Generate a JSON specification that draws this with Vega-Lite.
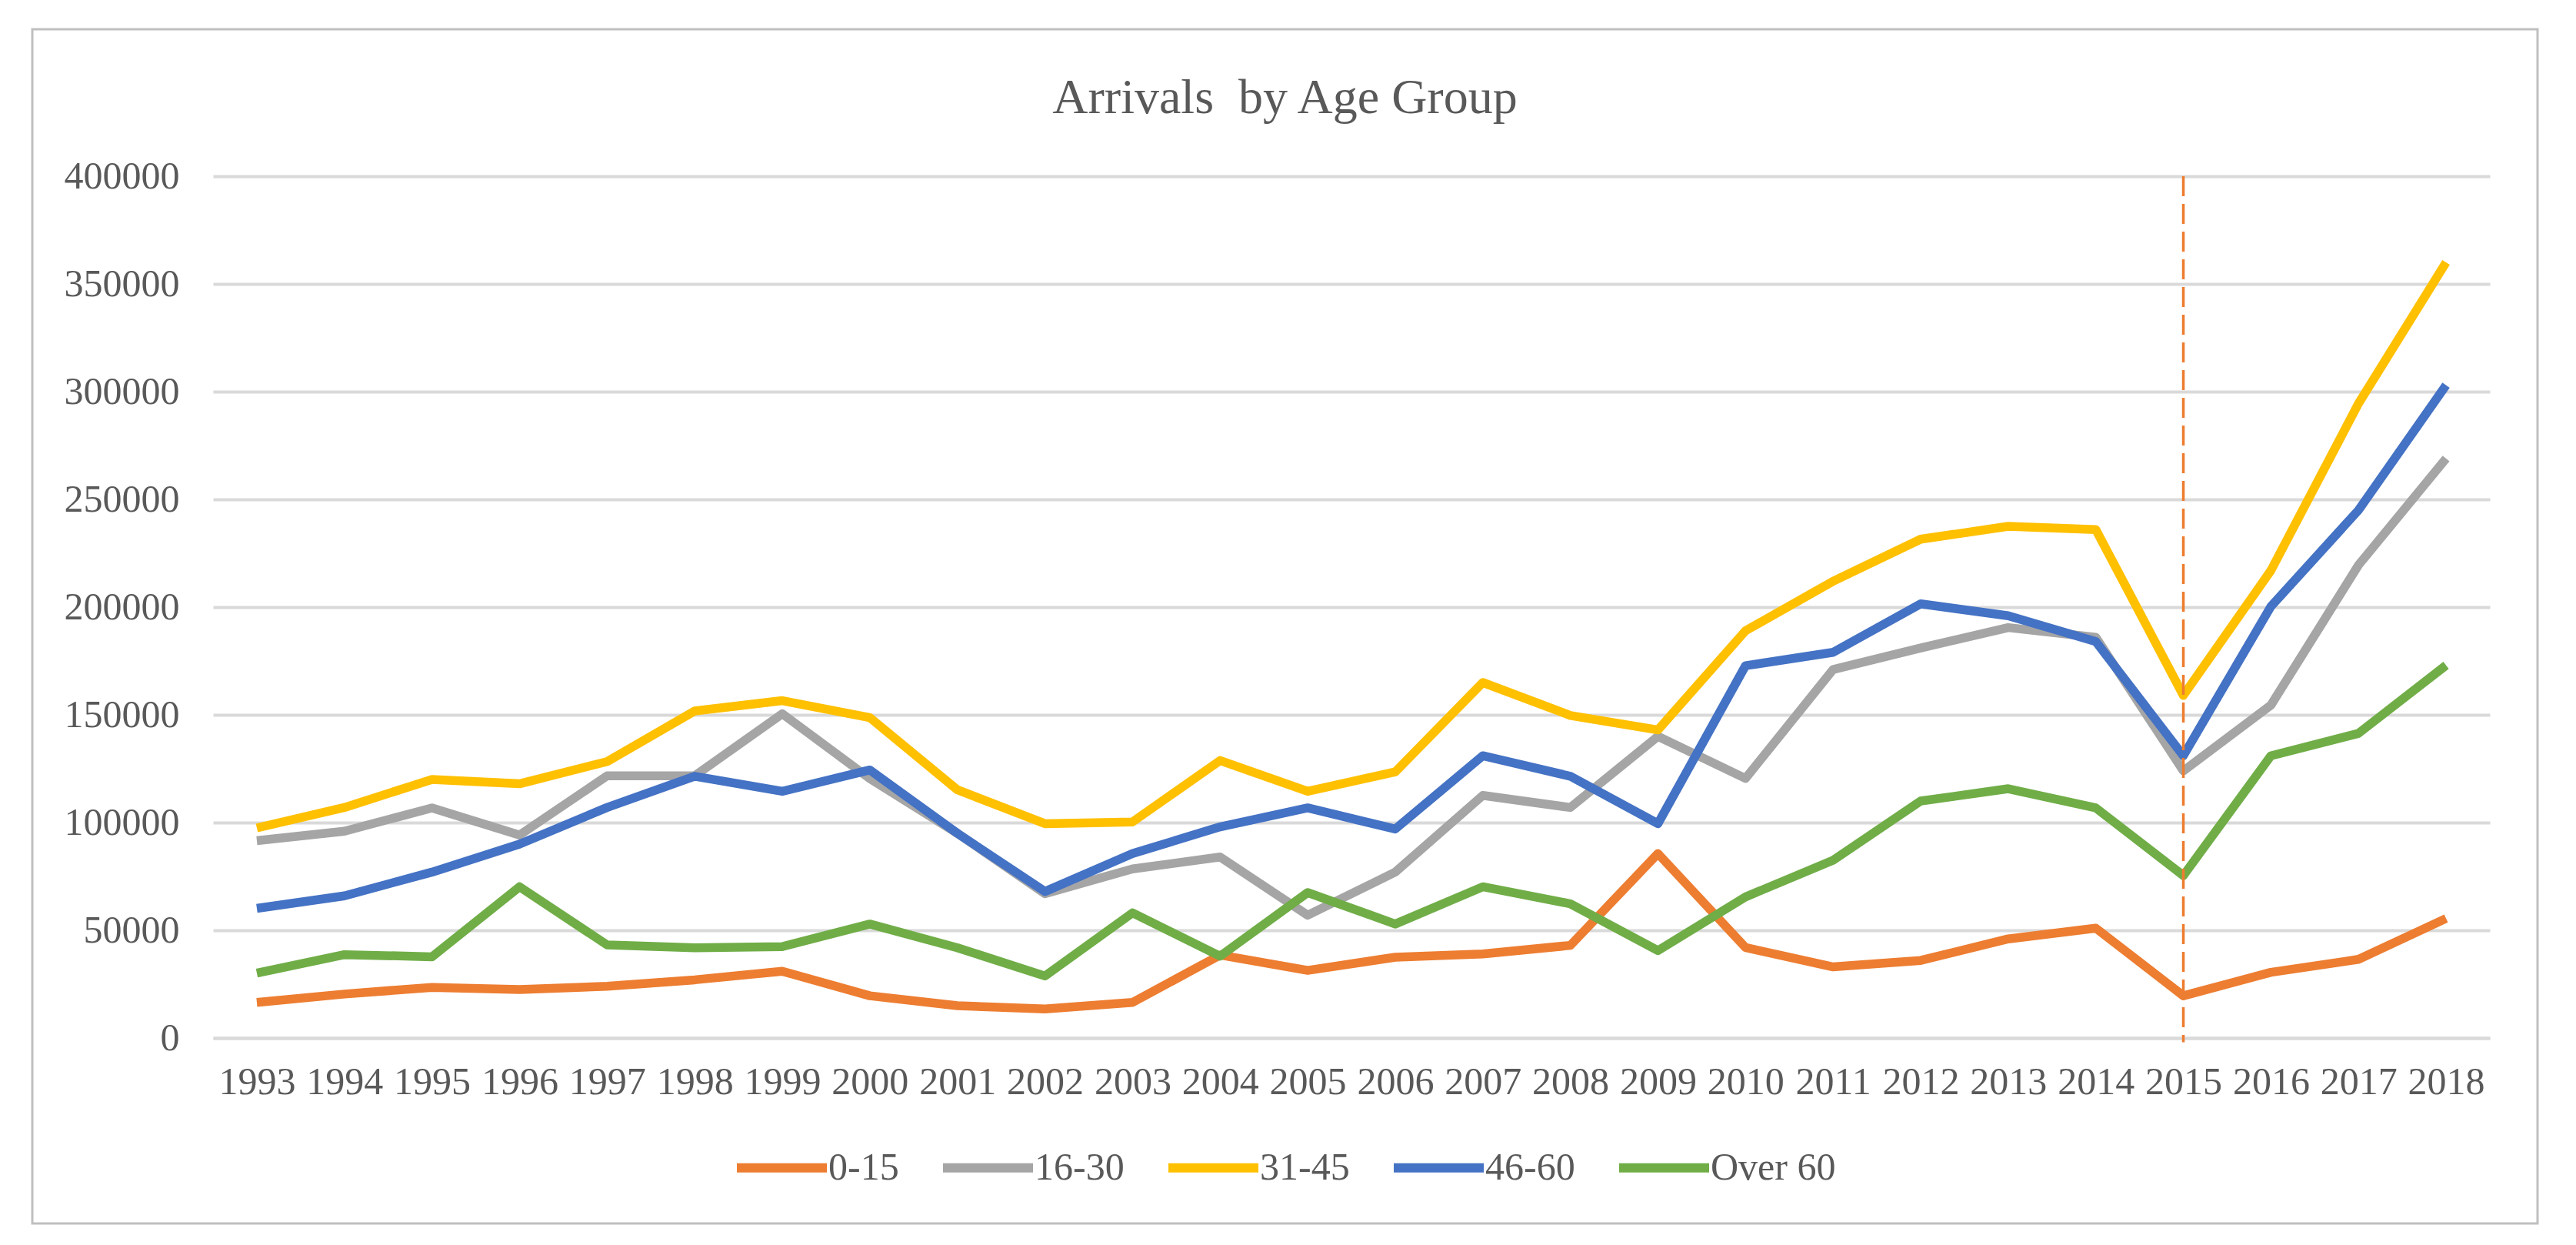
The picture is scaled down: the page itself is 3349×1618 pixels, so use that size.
{
  "$schema": "https://vega.github.io/schema/vega-lite/v6.json",
  "width": 3257,
  "height": 1552,
  "autosize": {"type": "none"},
  "padding": {"left": 42, "top": 38, "right": 50, "bottom": 28},
  "background": "white",
  "config": {
    "view": {"stroke": "#BFBFBF", "strokeWidth": 3},
    "font": "Liberation Serif"
  },
  "title": {
    "text": "Arrivals \u00a0by Age Group",
    "font": "Liberation Serif",
    "fontSize": 64,
    "fontWeight": "normal",
    "color": "#595959",
    "anchor": "middle",
    "frame": "group",
    "baseline": "alphabetic",
    "offset": -173
  },
  "datasets": {
    "series": [
      {"year": "1993", "group": "0-15", "value": 16500},
      {"year": "1994", "group": "0-15", "value": 20400},
      {"year": "1995", "group": "0-15", "value": 23500},
      {"year": "1996", "group": "0-15", "value": 22500},
      {"year": "1997", "group": "0-15", "value": 24000},
      {"year": "1998", "group": "0-15", "value": 27000},
      {"year": "1999", "group": "0-15", "value": 31000},
      {"year": "2000", "group": "0-15", "value": 19600},
      {"year": "2001", "group": "0-15", "value": 15000},
      {"year": "2002", "group": "0-15", "value": 13500},
      {"year": "2003", "group": "0-15", "value": 16500},
      {"year": "2004", "group": "0-15", "value": 38500},
      {"year": "2005", "group": "0-15", "value": 31400},
      {"year": "2006", "group": "0-15", "value": 37500},
      {"year": "2007", "group": "0-15", "value": 39000},
      {"year": "2008", "group": "0-15", "value": 43000},
      {"year": "2009", "group": "0-15", "value": 85600},
      {"year": "2010", "group": "0-15", "value": 42000},
      {"year": "2011", "group": "0-15", "value": 33000},
      {"year": "2012", "group": "0-15", "value": 36000},
      {"year": "2013", "group": "0-15", "value": 46000},
      {"year": "2014", "group": "0-15", "value": 51000},
      {"year": "2015", "group": "0-15", "value": 19600},
      {"year": "2016", "group": "0-15", "value": 30500},
      {"year": "2017", "group": "0-15", "value": 36500},
      {"year": "2018", "group": "0-15", "value": 55500},
      {"year": "1993", "group": "16-30", "value": 91600},
      {"year": "1994", "group": "16-30", "value": 96000},
      {"year": "1995", "group": "16-30", "value": 106800},
      {"year": "1996", "group": "16-30", "value": 94200},
      {"year": "1997", "group": "16-30", "value": 121700},
      {"year": "1998", "group": "16-30", "value": 121700},
      {"year": "1999", "group": "16-30", "value": 150500},
      {"year": "2000", "group": "16-30", "value": 120400},
      {"year": "2001", "group": "16-30", "value": 95000},
      {"year": "2002", "group": "16-30", "value": 67000},
      {"year": "2003", "group": "16-30", "value": 78500},
      {"year": "2004", "group": "16-30", "value": 84000},
      {"year": "2005", "group": "16-30", "value": 57000},
      {"year": "2006", "group": "16-30", "value": 77000},
      {"year": "2007", "group": "16-30", "value": 112600},
      {"year": "2008", "group": "16-30", "value": 107000},
      {"year": "2009", "group": "16-30", "value": 140000},
      {"year": "2010", "group": "16-30", "value": 120500},
      {"year": "2011", "group": "16-30", "value": 171000},
      {"year": "2012", "group": "16-30", "value": 181000},
      {"year": "2013", "group": "16-30", "value": 190500},
      {"year": "2014", "group": "16-30", "value": 186000},
      {"year": "2015", "group": "16-30", "value": 124000},
      {"year": "2016", "group": "16-30", "value": 154500},
      {"year": "2017", "group": "16-30", "value": 219500},
      {"year": "2018", "group": "16-30", "value": 269000},
      {"year": "1993", "group": "31-45", "value": 97500},
      {"year": "1994", "group": "31-45", "value": 107000},
      {"year": "1995", "group": "31-45", "value": 120000},
      {"year": "1996", "group": "31-45", "value": 118000},
      {"year": "1997", "group": "31-45", "value": 128300},
      {"year": "1998", "group": "31-45", "value": 151800},
      {"year": "1999", "group": "31-45", "value": 156600},
      {"year": "2000", "group": "31-45", "value": 148700},
      {"year": "2001", "group": "31-45", "value": 115200},
      {"year": "2002", "group": "31-45", "value": 99500},
      {"year": "2003", "group": "31-45", "value": 100300},
      {"year": "2004", "group": "31-45", "value": 128800},
      {"year": "2005", "group": "31-45", "value": 114500},
      {"year": "2006", "group": "31-45", "value": 123500},
      {"year": "2007", "group": "31-45", "value": 165000},
      {"year": "2008", "group": "31-45", "value": 149700},
      {"year": "2009", "group": "31-45", "value": 143000},
      {"year": "2010", "group": "31-45", "value": 189000},
      {"year": "2011", "group": "31-45", "value": 212000},
      {"year": "2012", "group": "31-45", "value": 231500},
      {"year": "2013", "group": "31-45", "value": 237500},
      {"year": "2014", "group": "31-45", "value": 236000},
      {"year": "2015", "group": "31-45", "value": 159000},
      {"year": "2016", "group": "31-45", "value": 217000},
      {"year": "2017", "group": "31-45", "value": 294500},
      {"year": "2018", "group": "31-45", "value": 360000},
      {"year": "1993", "group": "46-60", "value": 60200},
      {"year": "1994", "group": "46-60", "value": 66000},
      {"year": "1995", "group": "46-60", "value": 77000},
      {"year": "1996", "group": "46-60", "value": 90000},
      {"year": "1997", "group": "46-60", "value": 107000},
      {"year": "1998", "group": "46-60", "value": 121500},
      {"year": "1999", "group": "46-60", "value": 114500},
      {"year": "2000", "group": "46-60", "value": 124400},
      {"year": "2001", "group": "46-60", "value": 95000},
      {"year": "2002", "group": "46-60", "value": 68000},
      {"year": "2003", "group": "46-60", "value": 85600},
      {"year": "2004", "group": "46-60", "value": 98000},
      {"year": "2005", "group": "46-60", "value": 106800},
      {"year": "2006", "group": "46-60", "value": 97000},
      {"year": "2007", "group": "46-60", "value": 131000},
      {"year": "2008", "group": "46-60", "value": 121500},
      {"year": "2009", "group": "46-60", "value": 99500},
      {"year": "2010", "group": "46-60", "value": 172800},
      {"year": "2011", "group": "46-60", "value": 179000},
      {"year": "2012", "group": "46-60", "value": 201500},
      {"year": "2013", "group": "46-60", "value": 196000},
      {"year": "2014", "group": "46-60", "value": 184000},
      {"year": "2015", "group": "46-60", "value": 131000},
      {"year": "2016", "group": "46-60", "value": 200300},
      {"year": "2017", "group": "46-60", "value": 245000},
      {"year": "2018", "group": "46-60", "value": 303000},
      {"year": "1993", "group": "Over 60", "value": 30100},
      {"year": "1994", "group": "Over 60", "value": 38700},
      {"year": "1995", "group": "Over 60", "value": 37700},
      {"year": "1996", "group": "Over 60", "value": 70200},
      {"year": "1997", "group": "Over 60", "value": 43200},
      {"year": "1998", "group": "Over 60", "value": 41900},
      {"year": "1999", "group": "Over 60", "value": 42400},
      {"year": "2000", "group": "Over 60", "value": 52900},
      {"year": "2001", "group": "Over 60", "value": 41900},
      {"year": "2002", "group": "Over 60", "value": 28800},
      {"year": "2003", "group": "Over 60", "value": 58100},
      {"year": "2004", "group": "Over 60", "value": 38000},
      {"year": "2005", "group": "Over 60", "value": 67500},
      {"year": "2006", "group": "Over 60", "value": 52900},
      {"year": "2007", "group": "Over 60", "value": 70200},
      {"year": "2008", "group": "Over 60", "value": 62300},
      {"year": "2009", "group": "Over 60", "value": 40600},
      {"year": "2010", "group": "Over 60", "value": 65500},
      {"year": "2011", "group": "Over 60", "value": 82500},
      {"year": "2012", "group": "Over 60", "value": 110000},
      {"year": "2013", "group": "Over 60", "value": 115700},
      {"year": "2014", "group": "Over 60", "value": 106800},
      {"year": "2015", "group": "Over 60", "value": 75400},
      {"year": "2016", "group": "Over 60", "value": 131000},
      {"year": "2017", "group": "Over 60", "value": 141400},
      {"year": "2018", "group": "Over 60", "value": 173000}
    ],
    "marker": [
      {"year": "2015", "top": 400000, "bottom": -2000}
    ]
  },
  "layer": [
    {
      "data": {"name": "series"},
      "mark": {"type": "line", "strokeWidth": 11.5, "strokeJoin": "round", "strokeCap": "butt"},
      "encoding": {
        "x": {
          "field": "year",
          "type": "ordinal",
          "scale": {"type": "point", "range": [235, 3195], "padding": 0.5},
          "axis": {
            "title": null,
            "labelAngle": 0,
            "labelFont": "Liberation Serif",
            "labelFontSize": 50,
            "labelColor": "#595959",
            "labelOverlap": false,
            "ticks": false,
            "tickSize": 0,
            "domain": true,
            "domainColor": "#D9D9D9",
            "domainWidth": 4,
            "grid": false,
            "labelPadding": 32,
            "offset": -241
          }
        },
        "y": {
          "field": "value",
          "type": "quantitative",
          "scale": {"domain": [0, 400000], "range": [1311, 191], "nice": false, "zero": false},
          "axis": {
            "title": null,
            "values": [0, 50000, 100000, 150000, 200000, 250000, 300000, 350000, 400000],
            "format": "d",
            "labelFont": "Liberation Serif",
            "labelFontSize": 50,
            "labelColor": "#595959",
            "ticks": false,
            "tickSize": 0,
            "domain": false,
            "grid": true,
            "gridColor": "#D9D9D9",
            "gridWidth": 4,
            "labelPadding": 44,
            "offset": -235
          }
        },
        "color": {
          "field": "group",
          "type": "nominal",
          "scale": {
            "domain": ["0-15", "16-30", "31-45", "46-60", "Over 60"],
            "range": ["#ED7D31", "#A5A5A5", "#FFC000", "#4472C4", "#70AD47"]
          },
          "legend": {
            "orient": "none",
            "legendX": 910,
            "legendY": 1415,
            "direction": "horizontal",
            "columns": 5,
            "title": null,
            "symbolType": "stroke",
            "symbolSize": 13689,
            "symbolStrokeWidth": 12,
            "labelFont": "Liberation Serif",
            "labelFontSize": 50,
            "labelColor": "#595959",
            "labelOffset": -4,
            "labelLimit": 500,
            "columnPadding": 33,
            "padding": 0
          }
        }
      }
    },
    {
      "data": {"name": "marker"},
      "mark": {"type": "rule", "color": "#ED7D31", "strokeWidth": 3.5, "strokeDash": [26, 10]},
      "encoding": {
        "x": {"field": "year", "type": "ordinal"},
        "y": {"field": "top", "type": "quantitative"},
        "y2": {"field": "bottom"}
      }
    }
  ]
}
